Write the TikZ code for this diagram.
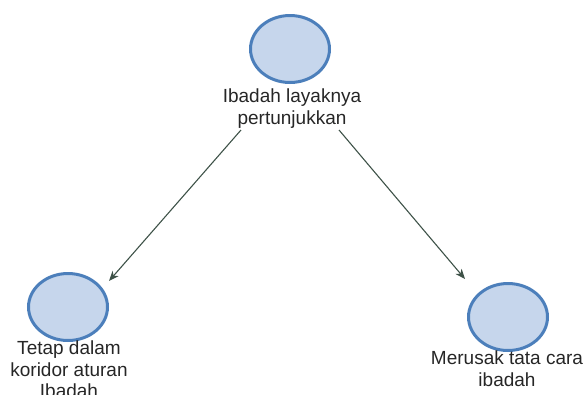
\documentclass[tikz,border=0pt]{standalone}
\usepackage{fontspec}
\setmainfont{Liberation Sans}
\usetikzlibrary{shapes.geometric,arrows.meta}
\definecolor{cfill}{RGB}{198,214,236}
\definecolor{cdraw}{RGB}{76,127,187}
\definecolor{carrow}{RGB}{62,82,72}
\tikzset{
  blob/.style={ellipse, draw=cdraw, fill=cfill, line width=3pt, minimum width=79pt, minimum height=67pt, inner sep=0pt},
  lbl/.style={anchor=north, align=center, inner sep=0pt, font=\fontsize{19}{21.5}\selectfont, text=black!85},
  arr/.style={draw=carrow, line width=1.1pt, -{Stealth[length=10pt,width=8pt,inset=3pt]}}
}
\begin{document}
\begin{tikzpicture}[x=1pt,y=-1pt]
\useasboundingbox (0,0) rectangle (583,394);
\node[blob] (top) at (290,49) {};
\node[lbl] (toplbl) at (292,89) {Ibadah layaknya\\pertunjukkan};
\node[blob] (left) at (68,307) {};
\node[lbl] (leftlbl) at (69,341) {Tetap dalam\\koridor aturan\\Ibadah};
\node[blob] (right) at (508,317) {};
\node[lbl] (rightlbl) at (507,351) {Merusak tata cara\\ibadah};
\coordinate (s1) at (241,130);
\coordinate (e1) at (109,281);
\coordinate (s2) at (339,130);
\coordinate (e2) at (465,279);
\draw[arr] (s1) -- (e1);
\draw[arr] (s2) -- (e2);
\end{tikzpicture}
\end{document}
